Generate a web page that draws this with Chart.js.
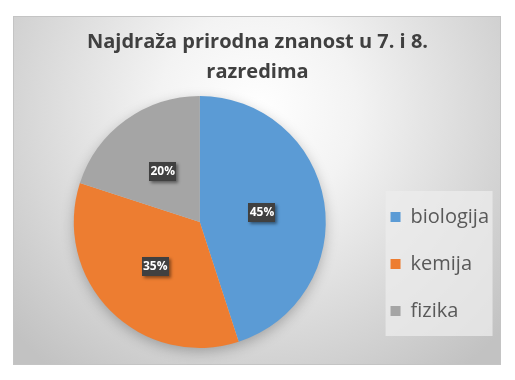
<!DOCTYPE html>
<html><head><meta charset="utf-8">
<script src="https://cdn.jsdelivr.net/npm/chart.js@4/dist/chart.umd.min.js"></script>
<style>html,body{margin:0;padding:0;background:#fff;}</style>
</head><body>
<canvas id="c" width="515" height="380" style="width:515px;height:380px;display:block"></canvas>
<script>
const titleLines = ['Najdraža prirodna znanost u 7. i 8.', 'razredima'];
const categories = ['biologija', 'kemija', 'fizika'];
const values = [45, 35, 20];
const colors = ['#5B9BD5', '#ED7D31', '#A5A5A5'];

const FONT = "'Open Sans', 'Noto Sans', sans-serif";

// empty layout box on the left so the pie sits left of centre while the title stays centred
const spacerPlugin = {
  id: 'leftSpacer',
  beforeInit(chart) {
    Chart.layouts.addBox(chart, {
      position: 'left', weight: 0, fullSize: false, options: {},
      width: 0, height: 0, left: 0, right: 0, top: 0, bottom: 0,
      update(maxWidth, maxHeight) { this.width = 20; this.height = maxHeight; },
      isHorizontal() { return false; },
      draw() {}
    });
  }
};

const bgPlugin = {
  id: 'bg',
  beforeDraw(chart) {
    const ctx = chart.ctx;
    ctx.save();
    ctx.fillStyle = '#ffffff';
    ctx.fillRect(0, 0, chart.width, chart.height);
    const x0 = 13, y0 = 16, x1 = 501, y1 = 365;
    const g = ctx.createRadialGradient(257, 110, 0, 257, 110, 330);
    g.addColorStop(0, '#ffffff');
    g.addColorStop(0.3, '#f3f3f3');
    g.addColorStop(1, '#c2c2c2');
    ctx.fillStyle = g;
    ctx.fillRect(x0, y0, x1 - x0, y1 - y0);
    ctx.strokeStyle = '#c4c4c4';
    ctx.lineWidth = 1;
    ctx.strokeRect(x0 + 0.5, y0 + 0.5, x1 - x0 - 1, y1 - y0 - 1);
    // legend backdrop
    const lg = chart.legend;
    if (lg && lg.legendHitBoxes && lg.legendHitBoxes.length) {
      const hb = lg.legendHitBoxes;
      const lx = hb[0].left - 5;
      const ty = hb[0].top - 16;
      const by = hb[hb.length - 1].top + hb[hb.length - 1].height + 15;
      ctx.fillStyle = 'rgba(236,236,236,0.75)';
      ctx.fillRect(lx, ty, 107, by - ty);
    }
    ctx.restore();
  }
};

const shadowPlugin = {
  id: 'pieShadow',
  beforeDatasetsDraw(chart) {
    const arc = chart.getDatasetMeta(0).data[0];
    if (!arc) return;
    const ctx = chart.ctx;
    ctx.save();
    ctx.shadowColor = 'rgba(0,0,0,0.28)';
    ctx.shadowBlur = 14;
    ctx.shadowOffsetY = 4;
    ctx.fillStyle = '#cccccc';
    ctx.beginPath();
    ctx.arc(arc.x, arc.y, arc.outerRadius - 1, 0, Math.PI * 2);
    ctx.fill();
    ctx.restore();
  }
};

const labelPlugin = {
  id: 'pctLabels',
  afterDatasetsDraw(chart) {
    const ctx = chart.ctx;
    const meta = chart.getDatasetMeta(0);
    const data = chart.data.datasets[0].data;
    const total = data.reduce((a, b) => a + b, 0);
    ctx.save();
    ctx.font = "bold 12px " + FONT;
    ctx.textAlign = 'center';
    ctx.textBaseline = 'middle';
    meta.data.forEach((arc, i) => {
      const p = arc.getCenterPoint();
      const txt = Math.round(data[i] / total * 100) + '%';
      const w = 27, h = 19;
      ctx.save();
      ctx.shadowColor = 'rgba(0,0,0,0.45)';
      ctx.shadowBlur = 3;
      ctx.shadowOffsetX = 2;
      ctx.shadowOffsetY = 2;
      ctx.fillStyle = '#404040';
      ctx.fillRect(Math.round(p.x - w / 2), Math.round(p.y - h / 2), w, h);
      ctx.restore();
      ctx.fillStyle = '#ffffff';
      ctx.fillText(txt, p.x, p.y + 0.5);
    });
    ctx.restore();
  }
};

new Chart(document.getElementById('c'), {
  type: 'pie',
  data: {
    labels: categories,
    datasets: [{
      data: values,
      backgroundColor: colors,
      borderWidth: 0
    }]
  },
  options: {
    responsive: false,
    animation: false,
    layout: { padding: { left: 16, right: 16, top: 16, bottom: 32 } },
    plugins: {
      title: {
        display: true,
        text: titleLines,
        color: '#404040',
        font: { family: FONT, size: 20, weight: 'bold', lineHeight: '30px' },
        padding: { top: 11, bottom: 9 }
      },
      legend: {
        display: true,
        position: 'right',
        align: 'end',
        maxWidth: 160,
        labels: {
          boxWidth: 10,
          boxHeight: 10,
          padding: 27,
          color: '#595959',
          font: { family: FONT, size: 20 }
        }
      },
      tooltip: { enabled: false }
    }
  },
  plugins: [spacerPlugin, bgPlugin, shadowPlugin, labelPlugin]
});
</script>
</body></html>
